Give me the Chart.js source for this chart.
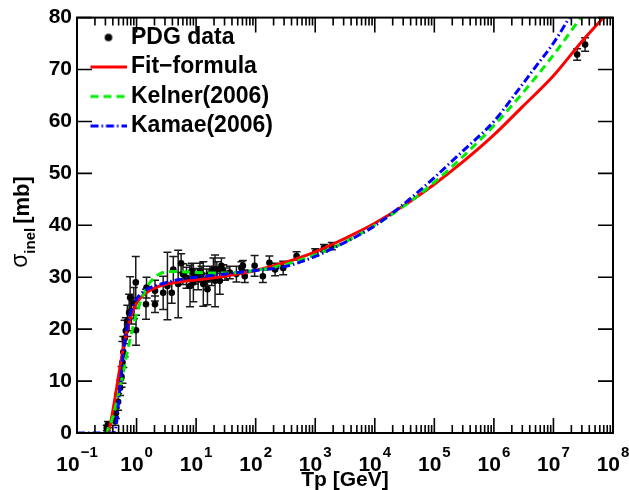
<!DOCTYPE html>
<html><head><meta charset="utf-8">
<script src="https://cdn.jsdelivr.net/npm/chart.js@4.4.1/dist/chart.umd.min.js"></script>
<style>html,body{margin:0;padding:0;background:#fff;}</style>
</head><body>
<canvas id="c" width="629" height="490"></canvas>
<script>
// ---------- data ----------
const pdgT = [0.316,0.33,0.434,0.45,0.49,0.53,0.56,0.58,0.60,0.63,0.66,0.70,0.75,0.78,0.82,0.90,0.97,0.98,1.44,1.47,2.04,2.04,2.8,3.3,3.9,4.14,5.0,5.6,6.0,6.9,7.9,8.4,9.0,9.6,10.8,11.6,12.4,13.2,15.0,15.5,17.0,18.3,19.5,20.8,22.3,25.0,26.6,28.6,30.5,36.8,47.5,57.7,61,65.6,96,132,170,212,290,486,1000,1400,1900,2.5e7,3.4e7];
const pdgSigma = [1.0,1.6,2.3,3.8,6.0,8.7,10.8,13.6,15.6,18.2,19.7,21.6,23.2,26.1,23.5,25.0,29.0,19.8,24.8,28.0,24.8,27.4,27.0,28.3,27.0,31.5,28.7,32.7,30.6,29.9,28.3,31.2,29.0,30.2,29.6,31.2,30.6,28.7,29.6,27.7,30.6,29.9,31.5,29.3,31.5,29.3,32.2,31.2,30.6,30.9,30.6,31.8,32.2,30.2,32.2,30.2,32.8,31.5,31.8,34.1,34.8,35.6,36.0,72.9,74.8];
const pdgErr = [0.5,0.6,0.8,1.0,1.6,1.5,2.0,4.0,3.0,3.5,2.5,3.0,3.5,4.0,2.5,3.0,5.0,2.9,2.9,2.0,1.6,2.0,3.2,6.5,2.0,2.5,6.5,1.8,2.0,2.0,4.0,1.5,3.7,1.5,2.0,1.5,1.5,4.3,2.0,3.0,1.5,1.5,2.2,5.0,1.5,2.6,1.5,1.2,1.2,1.2,1.5,1.2,1.0,1.2,2.0,1.2,1.3,1.2,1.3,0.8,0.7,0.7,0.7,1.1,1.3];

const fitT = [0.30,0.335,0.36,0.383,0.41,0.447,0.49,0.527,0.58,0.64,0.70,0.776,0.9,1.0,1.2,1.5,2.0,2.6,3.5,4.5,6,9,15,30,60,100,200,500,1000,2000,5000,1e4,3e4,1e5,3e5,1e6,3e6,1e7,3e7,1e8];
const fitSigma = [0,0.3,1.5,3.1,5.0,7.6,10.5,12.7,15.5,18.0,20.0,22.0,23.9,25.0,26.2,27.1,27.9,28.4,28.8,29.0,29.2,29.4,29.7,30.2,30.8,31.3,32.2,33.6,34.9,36.4,38.6,40.4,43.7,47.9,52.2,57.4,62.8,68.8,75.4,82.0];

const kelnerT = [0.28,0.30,0.35,0.40,0.45,0.50,0.56,0.63,0.70,0.80,0.90,1.0,1.2,1.5,2.0,2.5,3.0,4.0,5.0,7.0,10,20,50,100,200,500,1000,2000,5000,1e4,3e4,1e5,3e5,1e6,3e6,1e7,3e7];
const kelnerSigma = [0,0.1,1.3,3.1,5.4,7.6,10.2,13.0,15.6,18.6,21.0,23.0,25.7,28.1,30.0,30.7,31.0,31.1,31.1,31.0,30.9,30.8,30.9,31.3,31.9,33.1,34.3,35.7,38.0,40.0,43.6,48.3,53.2,59.2,65.4,72.8,80.3];

const kamaeT = [0.1,0.2,0.3,0.40,0.434,0.46,0.494,0.53,0.56,0.60,0.65,0.70,0.78,0.9,1.0,1.2,1.5,2.0,3.0,5.0,10,30,100,300,554,1000,2000,5000,1e4,3e4,1e5,3e5,1e6,2.12e6,5e6,1e7,2e7];
const kamaeSigma = [0,0,0,0,0.3,2.0,5.5,9.0,12.0,15.5,18.5,20.5,22.8,24.8,25.8,26.9,27.7,28.3,28.9,29.5,30.0,30.6,31.3,32.0,32.9,34.0,35.6,37.9,39.9,44.0,49.2,54.3,60.0,64.8,70.5,75.1,80.6];

const xDecades = [-1,0,1,2,3,4,5,6,7,8];
const yTickValues = [0,10,20,30,40,50,60,70,80];
const seriesNames = ['PDG data','Fit\u2212formula','Kelner(2006)','Kamae(2006)'];
const xTitle = 'Tp [GeV]';

// ---------- helpers ----------
const FONT = '"Liberation Sans", Arial, Helvetica, sans-serif';
const pts = (xs, ys) => xs.map((v, i) => ({x: v, y: ys[i]}));

// legend markers (line sample offset to the right inside a wider image)
function legendMarker(kind, color, dash) {
  const c = document.createElement('canvas');
  c.width = 50; c.height = 12;
  const g = c.getContext('2d');
  if (kind === 'dot') {
    g.fillStyle = color; g.beginPath(); g.arc(32, 6, 3.8, 0, Math.PI * 2); g.fill();
  } else {
    g.strokeStyle = color; g.lineWidth = 3; g.setLineDash(dash || []);
    g.beginPath(); g.moveTo(14, 6); g.lineTo(50, 6); g.stroke();
  }
  return c;
}

const rootStyle = {
  id: 'rootStyle',
  beforeDatasetsDraw(chart) {
    const {ctx, chartArea: a, scales: {x, y}} = chart;
    ctx.save();
    ctx.beginPath(); ctx.rect(a.left, a.top, a.right - a.left, a.bottom - a.top); ctx.clip();
    ctx.strokeStyle = '#1a1a1a'; ctx.lineWidth = 1.5;
    ctx.beginPath();
    for (let i = 0; i < pdgT.length; i++) {
      const px = x.getPixelForValue(pdgT[i]);
      const y1 = y.getPixelForValue(pdgSigma[i] - pdgErr[i]);
      const y2 = y.getPixelForValue(pdgSigma[i] + pdgErr[i]);
      ctx.moveTo(px, y1); ctx.lineTo(px, y2);
      ctx.moveTo(px - 4, y1); ctx.lineTo(px + 4, y1);
      ctx.moveTo(px - 4, y2); ctx.lineTo(px + 4, y2);
    }
    ctx.stroke();
    ctx.restore();
  },
  afterDraw(chart) {
    const {ctx, chartArea: a, scales: {x, y}} = chart;
    ctx.save();
    ctx.strokeStyle = '#000'; ctx.lineWidth = 1.6;
    ctx.beginPath();
    for (let d = -1; d <= 7; d++) {
      for (let k = 1; k <= 9; k++) {
        const px = x.getPixelForValue(k * Math.pow(10, d));
        const L = k === 1 ? 15 : 8;
        ctx.moveTo(px, a.bottom); ctx.lineTo(px, a.bottom - L);
        ctx.moveTo(px, a.top); ctx.lineTo(px, a.top + L);
      }
    }
    yTickValues.forEach(v => {
      const py = y.getPixelForValue(v);
      ctx.moveTo(a.left, py); ctx.lineTo(a.left + 15, py);
      ctx.moveTo(a.right, py); ctx.lineTo(a.right - 15, py);
    });
    ctx.stroke();
    ctx.lineWidth = 2;
    ctx.strokeRect(a.left, a.top, a.right - a.left, a.bottom - a.top);

    // x tick labels 10^n
    ctx.fillStyle = '#000'; ctx.textAlign = 'left'; ctx.textBaseline = 'alphabetic';
    xDecades.forEach(d => {
      const px = x.getPixelForValue(Math.pow(10, d));
      const base = '10', ex = d < 0 ? '\u2212' + (-d) : String(d);
      ctx.font = 'bold 21px ' + FONT; const wb = ctx.measureText(base).width;
      ctx.font = 'bold 15px ' + FONT; const we = ctx.measureText(ex).width;
      const x0 = px - (wb + we + 1) / 2;
      ctx.font = 'bold 21px ' + FONT; ctx.fillText(base, x0, 471);
      ctx.font = 'bold 15px ' + FONT; ctx.fillText(ex, x0 + wb + 1, 457);
    });

    // y title: sigma_inel [mb]
    ctx.translate(29, 222); ctx.rotate(-Math.PI / 2);
    const fS = '23px ' + FONT, fSub = 'bold 15px ' + FONT, fM = 'bold 22px ' + FONT;
    ctx.font = fS; const w1 = ctx.measureText('\u03c3').width;
    ctx.font = fSub; const w2 = ctx.measureText('inel').width;
    ctx.font = fM; const w3 = ctx.measureText('[mb]').width;
    const gap = 4;
    let sx = -(w1 + w2 + gap + w3) / 2;
    ctx.font = fS; ctx.fillText('\u03c3', sx, -2); sx += w1;
    ctx.font = fSub; ctx.fillText('inel', sx, 6); sx += w2 + gap;
    ctx.font = fM; ctx.fillText('[mb]', sx, 0);
    ctx.restore();
  }
};

const chart = new Chart(document.getElementById('c'), {
  type: 'scatter',
  data: {
    datasets: [
      { label: seriesNames[0], data: pts(pdgT, pdgSigma), order: 4,
        pointRadius: 3.3, pointBackgroundColor: '#000', pointBorderWidth: 0, showLine: false,
        legendMarker: legendMarker('dot', '#000') },
      { label: seriesNames[1], data: pts(fitT, fitSigma), order: 3, showLine: true,
        borderColor: '#ff0000', borderWidth: 3, pointRadius: 0, cubicInterpolationMode: 'monotone',
        legendMarker: legendMarker('line', '#ff0000', []) },
      { label: seriesNames[2], data: pts(kelnerT, kelnerSigma), order: 2, showLine: true,
        borderColor: '#00ee00', borderWidth: 3, borderDash: [8, 5], pointRadius: 0, cubicInterpolationMode: 'monotone',
        legendMarker: legendMarker('line', '#00ee00', [8, 5]) },
      { label: seriesNames[3], data: pts(kamaeT, kamaeSigma), order: 1, showLine: true,
        borderColor: '#0000ff', borderWidth: 3, borderDash: [8, 3, 1.5, 3], pointRadius: 0, cubicInterpolationMode: 'monotone',
        legendMarker: legendMarker('line', '#0000ff', [8, 3, 1.5, 3]) }
    ]
  },
  options: {
    responsive: false, animation: false, devicePixelRatio: 1,
    layout: { padding: { left: 0, right: 16, top: 15, bottom: 0 } },
    scales: {
      x: { type: 'logarithmic', min: 0.1, max: 1e8, position: 'bottom',
        grid: { display: false, drawTicks: false }, border: { display: false },
        ticks: { display: false },
        title: { display: true, text: xTitle, color: '#000', font: { family: FONT, size: 21, weight: 'bold' }, padding: { top: 0, bottom: -3 } },
        afterFit(s) { s.height = 57; } },
      y: { type: 'linear', min: 0, max: 80,
        grid: { display: false, drawTicks: false }, border: { display: false },
        ticks: { stepSize: 10, color: '#000', padding: 5, font: { family: FONT, size: 21, weight: 'bold' } },
        afterFit(s) { s.width = 77; } }
    },
    plugins: {
      tooltip: { enabled: false },
      legend: {
        position: 'chartArea', align: 'start',
        title: { display: true, text: ' ', font: { size: 15, lineHeight: 1.3 }, padding: 0 },
        labels: {
          usePointStyle: true, pointStyleWidth: 36, boxHeight: 5, padding: 6.5,
          color: '#000', font: { family: FONT, size: 23, weight: 'bold' },
          generateLabels: (ch) => ch.data.datasets.map((ds, i) => ({
            text: ds.label, fillStyle: '#000', strokeStyle: '#000', lineWidth: 0,
            pointStyle: ds.legendMarker, hidden: false, datasetIndex: i, fontColor: '#000'
          }))
        }
      }
    }
  },
  plugins: [rootStyle]
});
</script>
</body></html>
